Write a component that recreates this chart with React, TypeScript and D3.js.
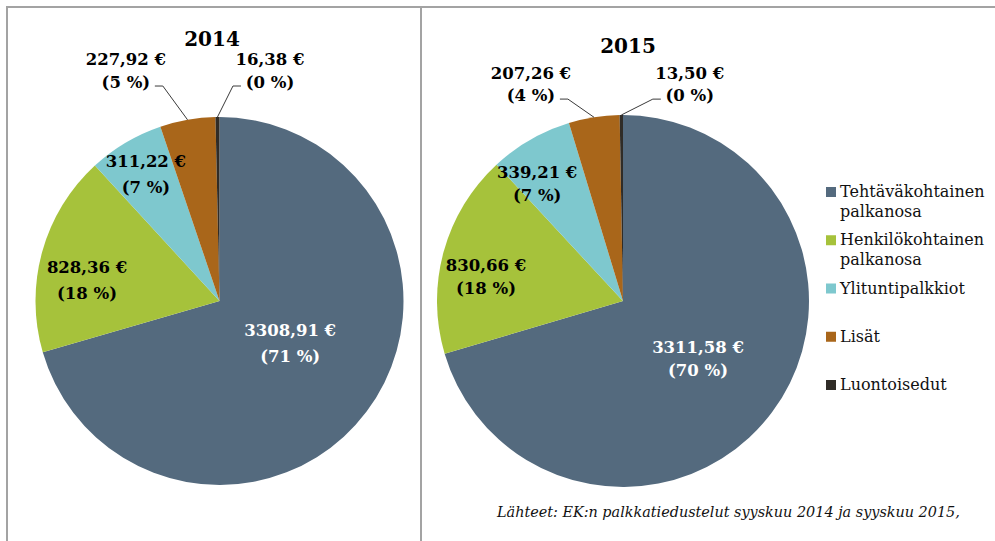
import * as d3 from "d3";

const categories = [
  "Tehtäväkohtainen palkanosa",
  "Henkilökohtainen palkanosa",
  "Ylituntipalkkiot",
  "Lisät",
  "Luontoisedut",
];
const colors = ["#546a7e", "#a6c23b", "#7ec8ce", "#a9661a", "#302c27"];

const years = ["2014", "2015"];
const values2014 = [3308.91, 828.36, 311.22, 227.92, 16.38];
const values2015 = [3311.58, 830.66, 339.21, 207.26, 13.5];

const sourceText = "Lähteet: EK:n palkkatiedustelut syyskuu 2014 ja syyskuu 2015,";

// label placement: [angle in degrees from 12 o'clock, radius as share of r]
const labelPolar2014: [number, number][] = [
  [121.4, 0.45],
  [278.6, 0.728],
  [329.7, 0.793],
  [337.8, 1.347],
  [12.4, 1.277],
];
const labelPolar2015: [number, number][] = [
  [127.7, 0.51],
  [279.7, 0.747],
  [323.5, 0.776],
  [336.9, 1.262],
  [17.2, 1.215],
];

const FONT = "'DejaVu Serif', Georgia, serif";

const fmtEuro = (v: number) => v.toFixed(2).replace(".", ",") + " €";

type PieProps = {
  cx: number;
  cy: number;
  r: number;
  values: number[];
  title: string;
  titleX: number;
  titleY: number;
  polar: [number, number][];
  gapIn: number;
  gapOut: number;
};

const Pie = ({ cx, cy, r, values, title, titleX, titleY, polar, gapIn, gapOut }: PieProps) => {
  const total = d3.sum(values);
  const arcs = d3.pie<number>().sort(null).value((d) => d)(values);
  const arcGen = d3.arc<d3.PieArcDatum<number>>().innerRadius(0).outerRadius(r);

  return (
    <g>
      <text
        x={titleX}
        y={titleY}
        textAnchor="middle"
        fontFamily={FONT}
        fontWeight="bold"
        fontSize={20}
      >
        {title}
      </text>
      <g transform={`translate(${cx},${cy})`}>
        {arcs.map((a, i) => (
          <path key={i} d={arcGen(a) || ""} fill={colors[i]} />
        ))}
        {arcs.map((a, i) => {
          const [deg, rf] = polar[i];
          const ang = (deg * Math.PI) / 180;
          const lx = Math.sin(ang) * r * rf;
          const ly = -Math.cos(ang) * r * rf;
          const outside = rf > 1;
          const gap = outside ? gapOut : gapIn;
          const pct = Math.round((values[i] / total) * 100) + " %";
          const fill = i === 0 ? "#ffffff" : "#000000";
          let leader = null;
          if (outside) {
            // leader from the slice edge to the side of the label
            const mid = (a.startAngle + a.endAngle) / 2;
            const px = Math.sin(mid) * r;
            const py = -Math.cos(mid) * r;
            const side = lx < 0 ? 1 : -1;
            const ey = ly + gap / 2 + 3;
            const pts: [number, number][] = [
              [px, py],
              [lx + side * 37, ey],
              [lx + side * 29, ey],
            ];
            leader = (
              <path
                d={d3.line()(pts) || ""}
                fill="none"
                stroke="#3a3a3a"
                strokeWidth={1}
              />
            );
          }
          return (
            <g key={"l" + i}>
              {leader}
              <text
                textAnchor="middle"
                fontFamily={FONT}
                fontWeight="bold"
                fontSize={16.5}
                fill={fill}
              >
                <tspan x={lx} y={ly - gap / 2 + 5}>
                  {fmtEuro(values[i])}
                </tspan>
                <tspan x={lx} y={ly + gap / 2 + 5}>
                  ({pct})
                </tspan>
              </text>
            </g>
          );
        })}
      </g>
    </g>
  );
};

const Legend = ({ x, y }: { x: number; y: number }) => {
  const pos = d3.scaleLinear().domain([0, categories.length - 1]).range([y, y + 193]);
  return (
    <g>
      {categories.map((c, i) => {
        const lines = c.split(" ");
        const top = pos(i);
        return (
          <g key={c}>
            <rect x={x} y={top} width={10} height={10} fill={colors[i]} />
            <text fontFamily={FONT} fontSize={16} fill="#111">
              {lines.map((ln, j) => (
                <tspan key={j} x={x + 14} y={top + 10 + j * 20}>
                  {ln}
                </tspan>
              ))}
            </text>
          </g>
        );
      })}
    </g>
  );
};

export default function App() {
  const W = 995;
  const H = 541;
  return (
    <svg
      width={W}
      height={H}
      style={{ position: "absolute", left: 0, top: 0, background: "#fff" }}
    >
      <rect width={W} height={H} fill="#fff" />
      <g stroke="#a3a3a3" strokeWidth={2}>
        <line x1={6} x2={W} y1={7} y2={7} />
        <line x1={7} x2={7} y1={6} y2={H} />
        <line x1={421} x2={421} y1={6} y2={H} />
      </g>
      <Pie
        cx={219.5}
        cy={301}
        r={184}
        values={values2014}
        title={years[0]}
        titleX={212}
        titleY={46}
        polar={labelPolar2014}
        gapIn={26}
        gapOut={23}
      />
      <Pie
        cx={623}
        cy={301}
        r={186}
        values={values2015}
        title={years[1]}
        titleX={628}
        titleY={53}
        polar={labelPolar2015}
        gapIn={23}
        gapOut={22}
      />
      <Legend x={826} y={187} />
      <text
        x={497}
        y={517}
        fontFamily={FONT}
        fontStyle="italic"
        fontSize={14.4}
        fill="#111"
      >
        {sourceText}
      </text>
    </svg>
  );
}
